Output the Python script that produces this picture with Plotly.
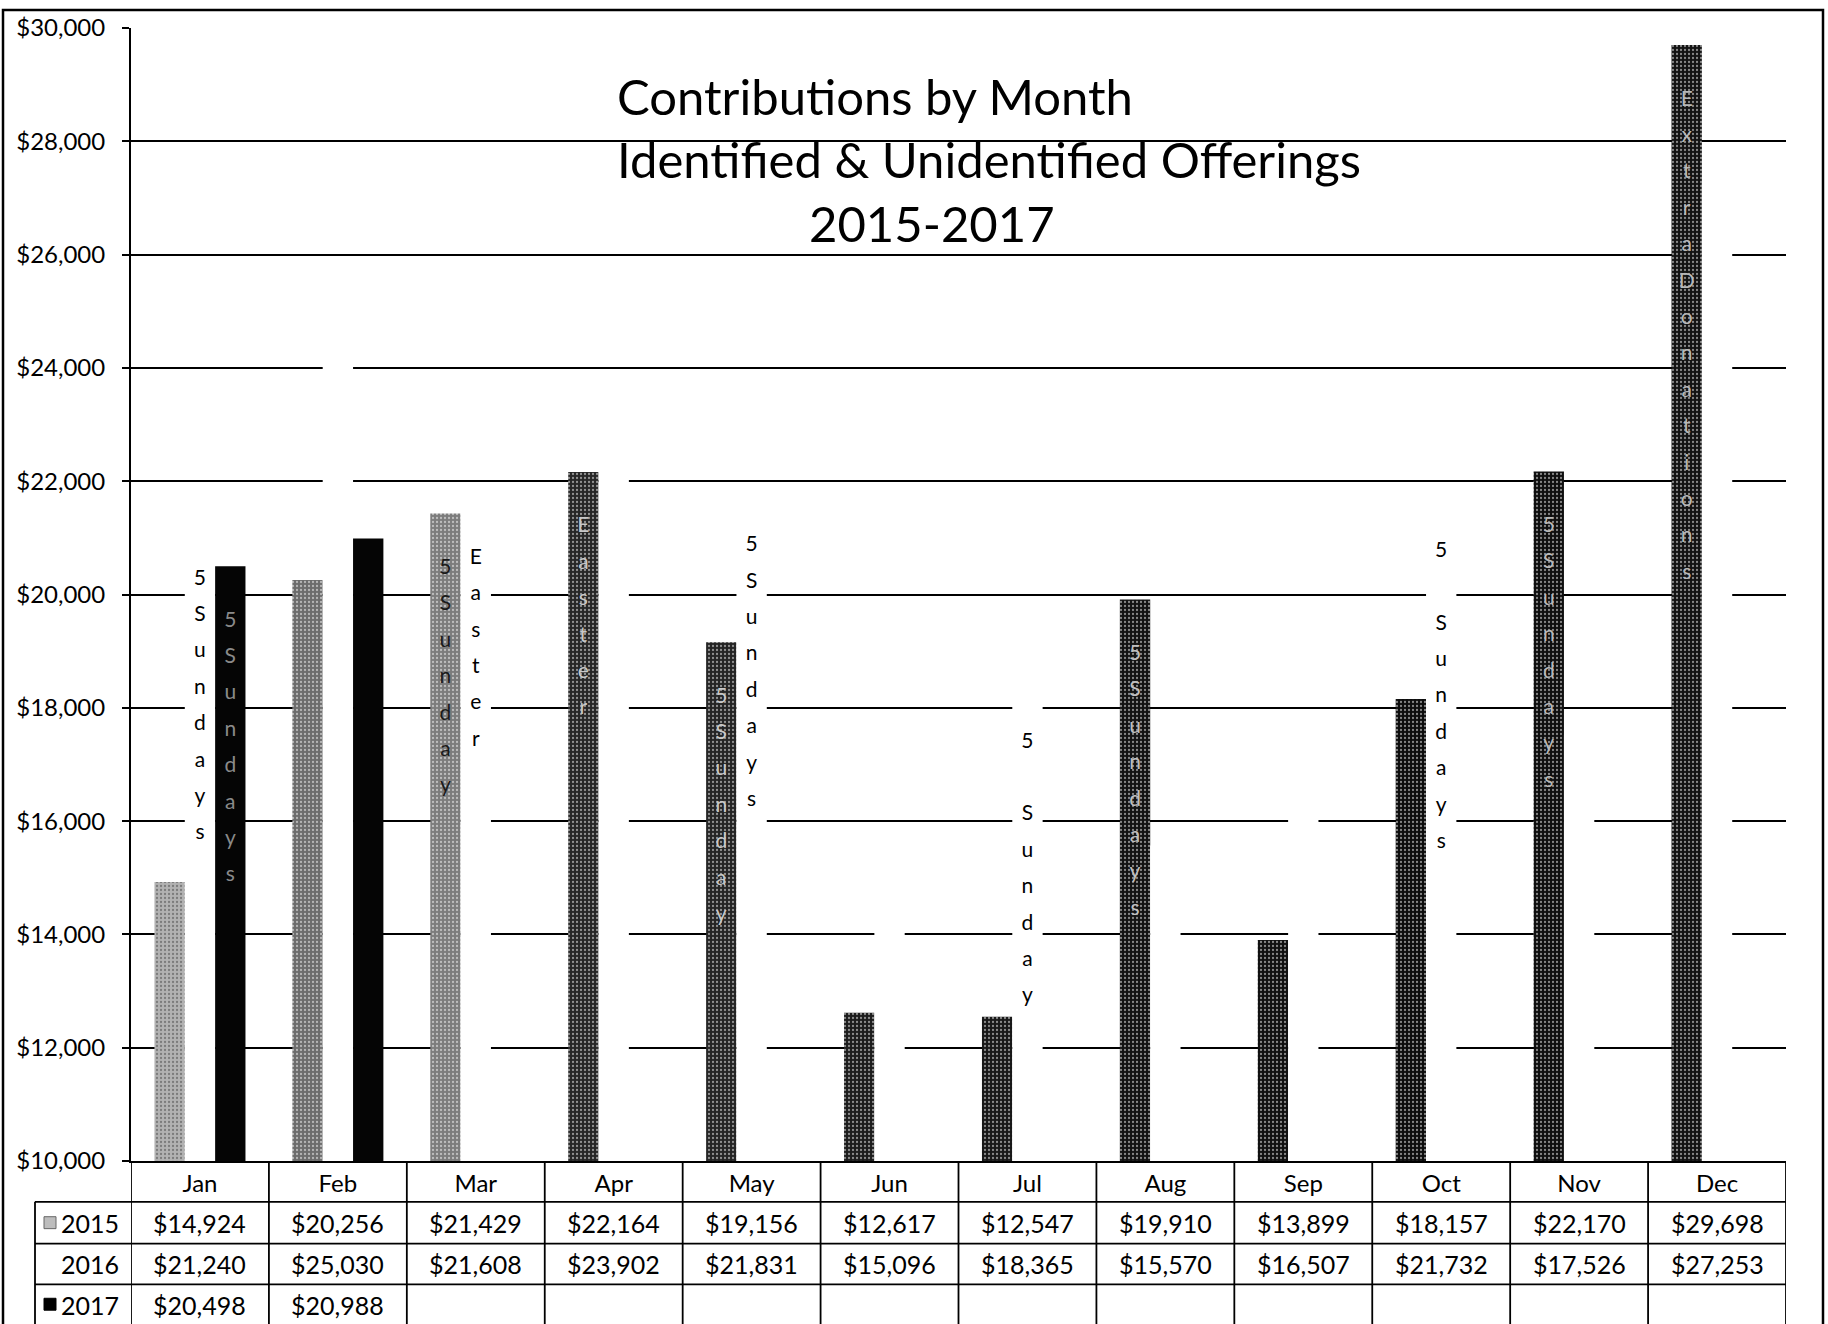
import plotly.graph_objects as go

# ---------------- data ----------------
months = ['Jan', 'Feb', 'Mar', 'Apr', 'May', 'Jun', 'Jul', 'Aug', 'Sep', 'Oct', 'Nov', 'Dec']
years = ['2015', '2016', '2017']
v2015 = [14924, 20256, 21429, 22164, 19156, 12617, 12547, 19910, 13899, 18157, 22170, 29698]
v2016 = [21240, 25030, 21608, 23902, 21831, 15096, 18365, 15570, 16507, 21732, 17526, 27253]
v2017 = [20498, 20988, None, None, None, None, None, None, None, None, None, None]
notes2015 = ['', '', '5 Sunday', 'Easter', '5 Sunday', '', '', '5 Sundays', '', '', '5 Sundays', 'Extra Donations']
notes2016 = ['5 Sundays', '', 'Easter', '', '5 Sundays', '', '5  Sunday', '', '', '5  Sundays', '', '']
notes2017 = ['5 Sundays', '', '', '', '', '', '', '', '', '', '', '']
title_lines = ['Contributions by Month', 'Identified & Unidentified Offerings', '2015-2017']
y_tick_vals = [10000, 12000, 14000, 16000, 18000, 20000, 22000, 24000, 26000, 28000, 30000]
y_tick_text = ['$10,000', '$12,000', '$14,000', '$16,000', '$18,000', '$20,000',
               '$22,000', '$24,000', '$26,000', '$28,000', '$30,000']

# ---------------- styles ----------------
FONT = "Lato, 'Open Sans', sans-serif"
W, H = 1828, 1324
PL, PR, PT, PB = 131, 1786, 22, 1161   # plot area in pixels
bar2015_color = ['#b2b2b2', '#6c6c6c', '#7c7c7c', '#262626', '#242424', '#1c1c1c',
                 '#181818', '#121212', '#101010', '#0c0c0c', '#0e0e0e', '#121212']
bar2015_fg = ['#e2e2e2', '#b4b4b4', '#bdbdbd', '#6e6e6e', '#6a6a6a', '#5a5a5a',
              '#4e4e4e', '#444444', '#3c3c3c', '#343434', '#383838', '#404040']
note2015_color = ['#333333', '#333333', '#1a1a1a', '#c8c8c8', '#c8c8c8', '#c8c8c8',
                  '#c8c8c8', '#c0c0c0', '#c0c0c0', '#c0c0c0', '#b8b8b8', '#b8b8b8']


def px_x(px):
    return (px - PL) / (PR - PL)


def px_y(py):
    return (PB - py) / (PB - PT)


def stack(s, size=21):
    if not s:
        return ''
    style = f"font-size:{size}px"
    lines = [f"<span style='font-size:{size}px;color:rgba(0,0,0,0)'>.</span>"]
    s2 = s.replace('  ', '\x00')
    for ch in s2:
        if ch == ' ':
            continue
        if ch == '\x00':
            lines.append(' ')
        else:
            lines.append(f"<span style='{style}'>{ch}</span>")
    return '<br>'.join(lines)


fig = go.Figure()

fig.add_trace(go.Bar(
    x=months, y=v2015, name='2015',
    marker=dict(color=bar2015_color, line=dict(width=0),
                pattern=dict(shape='.', fillmode='overlay', fgcolor=bar2015_fg,
                             size=4, solidity=0.25)),
    text=[stack(t) for t in notes2015], textposition='inside', insidetextanchor='end',
    textangle=0, constraintext='none',
    insidetextfont=dict(family=FONT, size=28, color=note2015_color),
))
fig.add_trace(go.Bar(
    x=months, y=v2016, name='2016',
    marker=dict(color='#ffffff', line=dict(width=0)),
    text=[stack(t) for t in notes2016], textposition='inside', insidetextanchor='end',
    textangle=0, constraintext='none',
    insidetextfont=dict(family=FONT, size=28, color='#000000'),
))
fig.add_trace(go.Bar(
    x=months, y=v2017, name='2017',
    marker=dict(color='#050505', line=dict(width=0)),
    text=[stack(t) for t in notes2017], textposition='inside', insidetextanchor='end',
    textangle=0, constraintext='none',
    insidetextfont=dict(family=FONT, size=28, color='#8a8a8a'),
))

annotations = []
# title lines
title_pos = [(615, 90), (615, 154), (807, 218)]
for txt, (x, y) in zip(title_lines, title_pos):
    annotations.append(dict(x=px_x(x), y=px_y(y), xref='paper', yref='paper',
                            xanchor='left', yanchor='middle', showarrow=False,
                            text=txt, font=dict(family=FONT, size=49, color='#000')))

# data table under the chart
row_bounds = [1161, 1202, 1244, 1285, 1326]
row_vals = [v2015, v2016, v2017]
for r, vals in enumerate(row_vals):
    yc = (row_bounds[r + 1] + row_bounds[r + 2]) / 2
    for m, v in zip(months, vals):
        if v is None:
            continue
        annotations.append(dict(x=m, y=px_y(yc), xref='x', yref='paper',
                                xanchor='center', yanchor='middle', showarrow=False,
                                text=f"${v:,}", font=dict(family=FONT, size=25, color='#000')))
    annotations.append(dict(x=px_x(121), y=px_y(yc), xref='paper', yref='paper',
                            xanchor='right', yanchor='middle', showarrow=False,
                            text=years[r], font=dict(family=FONT, size=25, color='#000')))

shapes = []
LW = 1.8
# vertical table lines at category boundaries
for i in range(len(months) + 1):
    shapes.append(dict(type='line', xref='x', yref='paper', x0=i - 0.5, x1=i - 0.5,
                       y0=px_y(PB), y1=px_y(1330), line=dict(color='#000', width=LW)))
# legend column left border
shapes.append(dict(type='line', xref='paper', yref='paper', x0=px_x(35), x1=px_x(35),
                   y0=px_y(1202), y1=px_y(1330), line=dict(color='#000', width=LW)))
# horizontal table lines
for yb in row_bounds[1:4]:
    shapes.append(dict(type='line', xref='paper', yref='paper', x0=px_x(35), x1=1,
                       y0=px_y(yb), y1=px_y(yb), line=dict(color='#000', width=LW)))
# legend keys
shapes.append(dict(type='rect', xref='paper', yref='paper', x0=px_x(44), x1=px_x(56),
                   y0=px_y(1229), y1=px_y(1217), line=dict(color='#666', width=1),
                   fillcolor='#bdbdbd'))
shapes.append(dict(type='rect', xref='paper', yref='paper', x0=px_x(44), x1=px_x(56),
                   y0=px_y(1311), y1=px_y(1299), line=dict(color='#000', width=1),
                   fillcolor='#000'))
# outer chart border
shapes.append(dict(type='rect', xref='paper', yref='paper', x0=px_x(3), x1=px_x(1823),
                   y0=px_y(1340), y1=px_y(4), line=dict(color='#000', width=2.5),
                   fillcolor='rgba(0,0,0,0)', layer='below'))

fig.update_layout(
    width=W, height=H,
    margin=dict(l=PL, r=W - PR, t=PT, b=H - PB),
    paper_bgcolor='#ffffff', plot_bgcolor='#ffffff',
    barmode='group', bargap=0.34, bargroupgap=0,
    showlegend=False,
    font=dict(family=FONT, color='#000'),
    annotations=annotations, shapes=shapes,
    xaxis=dict(type='category', categoryorder='array', categoryarray=months,
               range=[-0.5, 11.5], showline=True, linecolor='#000', linewidth=2,
               ticks='', showgrid=False, tickfont=dict(family=FONT, size=24, color='#000'),
               ticklabelstandoff=0, fixedrange=True),
    yaxis=dict(range=[10000, 30000], tickvals=y_tick_vals, ticktext=y_tick_text,
               showline=True, linecolor='#000', linewidth=2,
               ticks='outside', ticklen=7, tickcolor='#000', tickwidth=1.5,
               showgrid=True, gridcolor='#000', gridwidth=1.6,
               tickfont=dict(family=FONT, size=24, color='#000'),
               ticklabelstandoff=12, zeroline=False, fixedrange=True),
)

fig.write_html("out.html")
